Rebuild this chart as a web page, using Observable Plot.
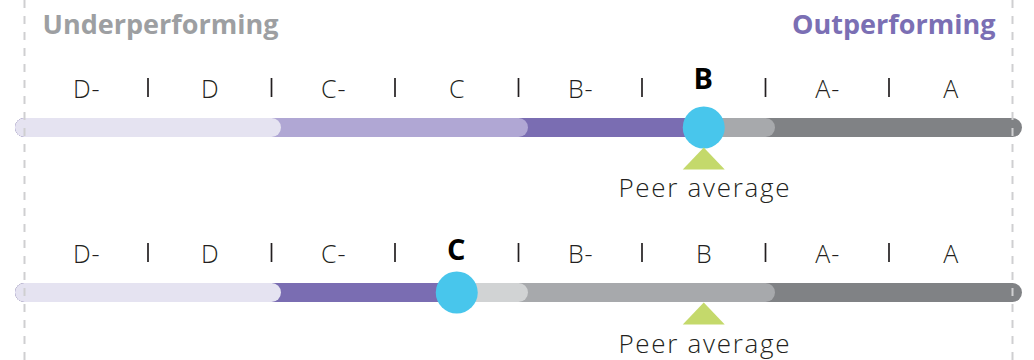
<!DOCTYPE html>
<html><head><meta charset="utf-8">
<script src="https://cdn.jsdelivr.net/npm/d3@7"></script>
<script src="https://cdn.jsdelivr.net/npm/@observablehq/plot@0.6"></script>
<style>
body{margin:0;background:#fff;}
#chart svg{display:block;}
</style></head><body><div id="chart"></div>
<script>
// ---- data ----
const grades = ["D-", "D", "C-", "C", "B-", "B", "A-", "A"];
const rows = ["Row 1", "Row 2"];
const scores = ["B", "C"];          // circle (own grade) per row
const peerAverages = ["B", "B"];    // triangle (peer average) per row
const headers = ["Underperforming", "Outperforming"];
const peerLabel = "Peer average";
// bar segments per row, back to front: right end (in grade-slot units from the left edge) and colour
const segmentEnds = [[8, 6, 5.5, 4, 2], [8, 6, 4, 3.5, 2]];
const segmentColors = [
  ["#808285", "#a7a9ac", "#7a6db2", "#b0a7d4", "#e5e3f1"],
  ["#808285", "#a7a9ac", "#d1d3d4", "#7a6db2", "#e5e3f1"]
];

// ---- derived tables ----
const slot = g => grades.indexOf(g) + 0.5;
const segs = rows.flatMap((r, i) => segmentEnds[i].map((e, j) => ({row: r, start: 0, end: e, color: segmentColors[i][j]})));
const labels = rows.flatMap((r, i) => grades.map(g => ({row: r, grade: g, selected: g === scores[i]})));
const seps = rows.flatMap(r => d3.range(1, grades.length).map(s => ({row: r, x: s})));
const pts = rows.map((r, i) => ({row: r, grade: scores[i], score: slot(scores[i]), peer: slot(peerAverages[i]), same: scores[i] === peerAverages[i]}));
const same = pts.filter(d => d.same), diff = pts.filter(d => !d.same);

const flatTriangle = {draw(ctx, size) {
  const r = Math.sqrt(size / Math.PI);
  ctx.moveTo(0, -r * 0.52); ctx.lineTo(r, r * 0.52); ctx.lineTo(-r, r * 0.52); ctx.closePath();
}};

const font = "'Open Sans', sans-serif";
const ink = "#231f20";

const plot = Plot.plot({
  width: 1034, height: 360,
  marginTop: 127, marginBottom: 68, marginLeft: 24, marginRight: 22,
  x: {domain: [0, grades.length], axis: null},
  y: {type: "point", domain: rows, padding: 0, axis: null},
  color: {type: "identity"},
  style: {fontFamily: font, background: "#fff", overflow: "visible"},
  marks: [
    Plot.link(segs, {x1: "start", x2: "end", y1: "row", y2: "row", stroke: "color", strokeWidth: 19, strokeLinecap: "round", strokeOpacity: 1}),
    Plot.ruleX([0, grades.length], {stroke: "#cfcfd1", strokeWidth: 2, strokeDasharray: "8,8", insetTop: -127, insetBottom: -68}),
    Plot.ruleX(seps, {x: "x", y1: "row", y2: "row", insetTop: -49, insetBottom: 30, stroke: ink, strokeWidth: 1.7}),
    Plot.text(labels.filter(d => !d.selected), {x: d => slot(d.grade), y: "row", text: "grade", dy: -30, dx: 0.5, lineAnchor: "bottom", fontSize: 25, fontWeight: 300, fill: ink}),
    Plot.text(same, {x: "score", y: "row", text: "grade", dy: -39, lineAnchor: "bottom", fontSize: 29, fontWeight: 700, fill: "#000"}),
    Plot.text(diff, {x: "score", y: "row", text: "grade", dy: -33, lineAnchor: "bottom", fontSize: 29, fontWeight: 700, fill: "#000"}),
    Plot.dot(pts, {x: "score", y: "row", r: 21, fill: "#48c6ec"}),
    Plot.dot(same, {x: "peer", y: "row", dy: 31, r: 21, symbol: flatTriangle, fill: "#c4d96b"}),
    Plot.dot(diff, {x: "peer", y: "row", dy: 21, r: 21, symbol: flatTriangle, fill: "#c4d96b"}),
    Plot.text(same, {x: "peer", y: "row", text: () => peerLabel, dy: 69, dx: 1, lineAnchor: "bottom", fontSize: 26, fontWeight: 300, fill: ink}),
    Plot.text(diff, {x: "peer", y: "row", text: () => peerLabel, dy: 60, dx: 1, lineAnchor: "bottom", fontSize: 26, fontWeight: 300, fill: ink}),
    Plot.text([headers[0]], {x: () => 0, y: () => rows[0], dx: 18, dy: -94, text: d => d, textAnchor: "start", lineAnchor: "bottom", fontSize: 27, fontWeight: 700, fill: "#9d9fa2"}),
    Plot.text([headers[1]], {x: () => grades.length, y: () => rows[0], dx: -17, dy: -94, text: d => d, textAnchor: "end", lineAnchor: "bottom", fontSize: 27, fontWeight: 700, fill: "#7b6fb4"})
  ]
});
d3.select(plot).selectAll("text").filter(function() { return this.textContent === peerLabel; }).attr("letter-spacing", "1.7px");
d3.select(plot).selectAll("text").filter(function() { return grades.includes(this.textContent) && this.getAttribute("font-weight") !== "700"; }).attr("letter-spacing", "1px");
document.getElementById("chart").append(plot);
</script>
</body></html>
